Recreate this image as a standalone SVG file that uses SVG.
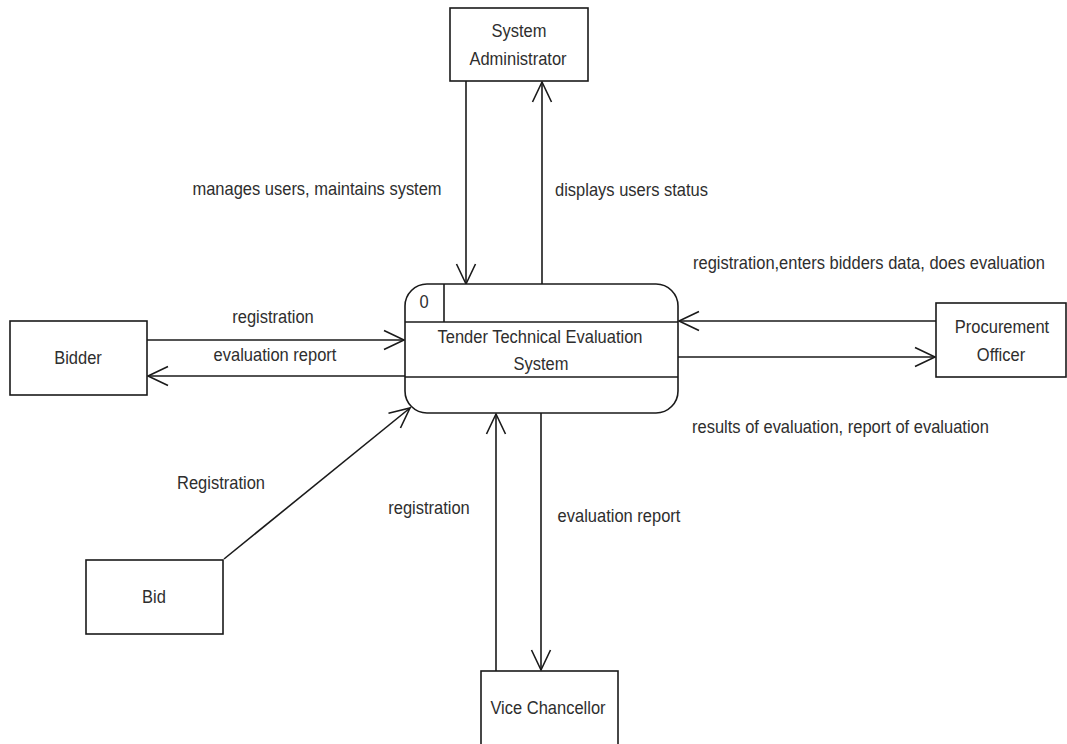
<svg xmlns="http://www.w3.org/2000/svg" width="1067" height="744" viewBox="0 0 1067 744">
  <style>
    .box { fill: #ffffff; stroke: #1a1a1a; stroke-width: 1.6; }
    .line { fill: none; stroke: #1a1a1a; stroke-width: 1.6; }
    .flow { fill: none; stroke: #1a1a1a; stroke-width: 1.6; marker-end: url(#open-arrow); }
    text { font-family: "Liberation Sans", Arial, sans-serif; font-size: 16.5px; fill: #2e2e2e; }
    .c { text-anchor: middle; }
  </style>
  <defs>
    <marker id="open-arrow" markerUnits="userSpaceOnUse" viewBox="-24 -12 26 24" refX="0" refY="0" markerWidth="26" markerHeight="24" orient="auto" overflow="visible">
      <path d="M-20,-9.5 L0,0 L-20,9.5" fill="none" stroke="#1a1a1a" stroke-width="1.6"/>
    </marker>
  </defs>

  <rect width="1067" height="744" fill="#ffffff"/>

  <!-- data flows; labels are stretched slightly in height -->
  <g id="connectors">
    <line class="flow" x1="466" y1="81" x2="466" y2="284"/>
    <line class="flow" x1="542" y1="284" x2="542" y2="82"/>
    <line class="flow" x1="147" y1="340" x2="404" y2="340"/>
    <line class="flow" x1="405" y1="376" x2="148" y2="376"/>
    <line class="flow" x1="936" y1="321" x2="679" y2="321"/>
    <line class="flow" x1="678" y1="357" x2="935" y2="357"/>
    <line class="flow" x1="224" y1="559" x2="410" y2="408"/>
    <line class="flow" x1="496" y1="671" x2="496" y2="414"/>
    <line class="flow" x1="541" y1="413" x2="541" y2="670"/>

    <text class="c" transform="translate(317 195) scale(1 1.08)">manages users, maintains system</text>
    <text transform="translate(555 196) scale(1 1.08)">displays users status</text>
    <text transform="translate(693 269) scale(1 1.08)">registration,enters bidders data, does evaluation</text>
    <text transform="translate(692 433) scale(1 1.08)">results of evaluation, report of evaluation</text>
    <text class="c" transform="translate(273 323) scale(1 1.08)">registration</text>
    <text class="c" transform="translate(275 361) scale(1 1.08)">evaluation report</text>
    <text class="c" transform="translate(221 489) scale(1 1.08)">Registration</text>
    <text class="c" transform="translate(429 514) scale(1 1.08)">registration</text>
    <text class="c" transform="translate(619 522) scale(1 1.08)">evaluation report</text>
  </g>

  <!-- central process -->
  <g id="process-0">
    <rect class="box" x="405" y="284" width="273" height="129" rx="22" ry="22"/>
    <line class="line" x1="405" y1="322" x2="678" y2="322"/>
    <line class="line" x1="444" y1="284" x2="444" y2="322"/>
    <line class="line" x1="405" y1="377" x2="678" y2="377"/>
    <text class="c" transform="translate(424 308) scale(1 1.08)">0</text>
    <text class="c" transform="translate(540 343) scale(1 1.08)">Tender Technical Evaluation</text>
    <text class="c" transform="translate(541 370) scale(1 1.08)">System</text>
  </g>

  <!-- external entities -->
  <g id="system-administrator">
    <rect class="box" x="450" y="8" width="138" height="73"/>
    <text class="c" transform="translate(519 37) scale(1 1.08)">System</text>
    <text class="c" transform="translate(518 65) scale(1 1.08)">Administrator</text>
  </g>

  <g id="bidder">
    <rect class="box" x="10" y="321" width="137" height="74"/>
    <text class="c" transform="translate(78 364) scale(1 1.08)">Bidder</text>
  </g>

  <g id="procurement-officer">
    <rect class="box" x="936" y="303" width="130" height="74"/>
    <text class="c" transform="translate(1002 333) scale(1 1.08)">Procurement</text>
    <text class="c" transform="translate(1001 361) scale(1 1.08)">Officer</text>
  </g>

  <g id="bid">
    <rect class="box" x="86" y="560" width="137" height="74"/>
    <text class="c" transform="translate(154 603) scale(1 1.08)">Bid</text>
  </g>

  <g id="vice-chancellor">
    <rect class="box" x="481" y="671" width="137" height="75"/>
    <text class="c" transform="translate(548 714) scale(1 1.08)">Vice Chancellor</text>
  </g>
</svg>
